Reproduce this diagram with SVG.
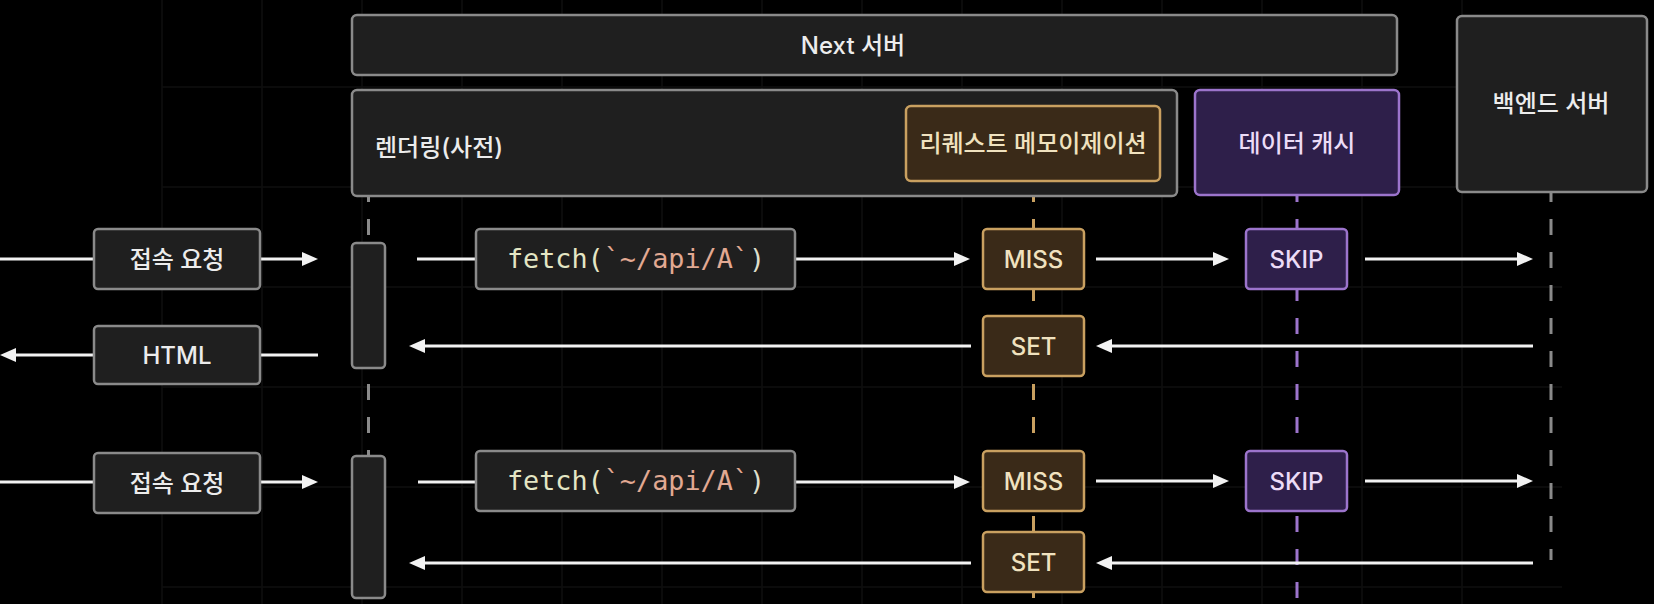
<svg xmlns="http://www.w3.org/2000/svg" width="1654" height="604" viewBox="0 0 1654 604">
<defs>
<marker id="ah" markerUnits="userSpaceOnUse" markerWidth="18" markerHeight="16" refX="8" refY="7" orient="auto">
<path d="M0,0 L16,7 L0,14 z" fill="#f2f2f2"/>
</marker>
</defs>
<style>
.grid line{stroke:#0f0f0f;stroke-width:1.5}
.node{fill:#1f1f1f;stroke:#8a8a8a;stroke-width:2.5}
.memo{fill:#3a2a18;stroke:#c9a060;stroke-width:2.5}
.cache{fill:#2e1f4a;stroke:#9c74cc;stroke-width:2.5}
.t{font-family:Inter,"Noto Sans CJK KR",sans-serif;font-size:24px;font-weight:500;fill:#ececec;text-anchor:middle}
.tm{fill:#f0e2bf}
.tc{fill:#ecdcf7}
.code{font-family:"DejaVu Sans Mono",monospace;font-size:26.8px;text-anchor:middle}
.life{stroke-width:3;stroke-dasharray:16 17;fill:none}
.lg{stroke:#8a8a8a}
.lo{stroke:#c9a060}
.lp{stroke:#9c74cc}
.arr line{stroke:#f2f2f2;stroke-width:3}
.arr line.a{marker-end:url(#ah)}
</style>
<rect x="0" y="0" width="1654" height="604" fill="#000"/>
<g class="grid">
<line x1="162" y1="0" x2="162" y2="604"/><line x1="262" y1="0" x2="262" y2="604"/><line x1="362" y1="0" x2="362" y2="604"/><line x1="462" y1="0" x2="462" y2="604"/><line x1="562" y1="0" x2="562" y2="604"/><line x1="662" y1="0" x2="662" y2="604"/><line x1="762" y1="0" x2="762" y2="604"/><line x1="862" y1="0" x2="862" y2="604"/><line x1="962" y1="0" x2="962" y2="604"/><line x1="1062" y1="0" x2="1062" y2="604"/><line x1="1162" y1="0" x2="1162" y2="604"/><line x1="1262" y1="0" x2="1262" y2="604"/><line x1="1362" y1="0" x2="1362" y2="604"/><line x1="1462" y1="0" x2="1462" y2="604"/>
<line x1="162" y1="87" x2="1562" y2="87"/><line x1="162" y1="187" x2="1562" y2="187"/><line x1="162" y1="287" x2="1562" y2="287"/><line x1="162" y1="387" x2="1562" y2="387"/><line x1="162" y1="487" x2="1562" y2="487"/><line x1="162" y1="587" x2="1562" y2="587"/>
</g>
<g id="lifelines">
<line class="life lg" x1="368.5" y1="186" x2="368.5" y2="604"/>
<line class="life lo" x1="1033.5" y1="186" x2="1033.5" y2="604"/>
<line class="life lp" x1="1297" y1="186" x2="1297" y2="604"/>
<line class="life lg" x1="1551" y1="186" x2="1551" y2="560"/>
</g>
<g id="connectors" class="arr">
<line class="a" x1="0" y1="259" x2="310" y2="259"/>
<line class="a" x1="417" y1="259" x2="962" y2="259"/>
<line class="a" x1="1096" y1="259" x2="1221" y2="259"/>
<line class="a" x1="1365" y1="259" x2="1525" y2="259"/>
<line class="a" x1="1533" y1="346" x2="1104" y2="346"/>
<line class="a" x1="971" y1="346" x2="417" y2="346"/>
<line class="a" x1="318" y1="355" x2="8" y2="355"/>
<line class="a" x1="0" y1="482" x2="310" y2="482"/>
<line class="a" x1="418" y1="482" x2="962" y2="482"/>
<line class="a" x1="1096" y1="481" x2="1221" y2="481"/>
<line class="a" x1="1365" y1="481" x2="1525" y2="481"/>
<line class="a" x1="1533" y1="563" x2="1104" y2="563"/>
<line class="a" x1="971" y1="563" x2="417" y2="563"/>
</g>
<g id="next-server"><rect class="node" x="352" y="15" width="1045" height="60" rx="5"/><text class="t" x="853" y="54">Next 서버</text></g>
<g id="rendering"><rect class="node" x="352" y="90" width="825" height="106" rx="5"/><text class="t" x="375" y="156" style="text-anchor:start">렌더링(사전)</text></g>
<g id="request-memo"><rect class="memo" x="906" y="106" width="254" height="75" rx="5"/><text class="t tm" x="1033" y="152">리퀘스트 메모이제이션</text></g>
<g id="data-cache"><rect class="cache" x="1195" y="90" width="204" height="105" rx="5"/><text class="t tc" x="1297" y="152">데이터 캐시</text></g>
<g id="backend"><rect class="node" x="1457" y="16" width="190" height="176" rx="5"/><text class="t" x="1551" y="112">백엔드 서버</text></g>
<g id="req1"><rect class="node" x="94" y="229" width="166" height="60" rx="4"/><text class="t" x="177" y="268">접속 요청</text></g>
<g id="html"><rect class="node" x="94" y="326" width="166" height="58" rx="4"/><text class="t" x="177" y="364">HTML</text></g>
<g id="bar1"><rect class="node" x="352" y="243" width="33" height="125" rx="4"/></g>
<g id="fetch1"><rect class="node" x="476" y="229" width="319" height="60" rx="4"/><text class="code" x="636" y="268"><tspan fill="#e4e6c4">fetch(</tspan><tspan fill="#e2a992">`~/api/A`</tspan><tspan fill="#dedecb">)</tspan></text></g>
<g id="miss1"><rect class="memo" x="983" y="229" width="101" height="60" rx="4"/><text class="t tm" x="1033.5" y="268">MISS</text></g>
<g id="skip1"><rect class="cache" x="1246" y="229" width="101" height="60" rx="4"/><text class="t tc" x="1296.5" y="268">SKIP</text></g>
<g id="set1"><rect class="memo" x="983" y="316" width="101" height="60" rx="4"/><text class="t tm" x="1033.5" y="355">SET</text></g>
<g id="req2"><rect class="node" x="94" y="453" width="166" height="60" rx="4"/><text class="t" x="177" y="492">접속 요청</text></g>
<g id="bar2"><rect class="node" x="352" y="456" width="33" height="142" rx="4"/></g>
<g id="fetch2"><rect class="node" x="476" y="451" width="319" height="60" rx="4"/><text class="code" x="636" y="490"><tspan fill="#e4e6c4">fetch(</tspan><tspan fill="#e2a992">`~/api/A`</tspan><tspan fill="#dedecb">)</tspan></text></g>
<g id="miss2"><rect class="memo" x="983" y="451" width="101" height="60" rx="4"/><text class="t tm" x="1033.5" y="490">MISS</text></g>
<g id="skip2"><rect class="cache" x="1246" y="451" width="101" height="60" rx="4"/><text class="t tc" x="1296.5" y="490">SKIP</text></g>
<g id="set2"><rect class="memo" x="983" y="532" width="101" height="60" rx="4"/><text class="t tm" x="1033.5" y="571">SET</text></g>
</svg>
